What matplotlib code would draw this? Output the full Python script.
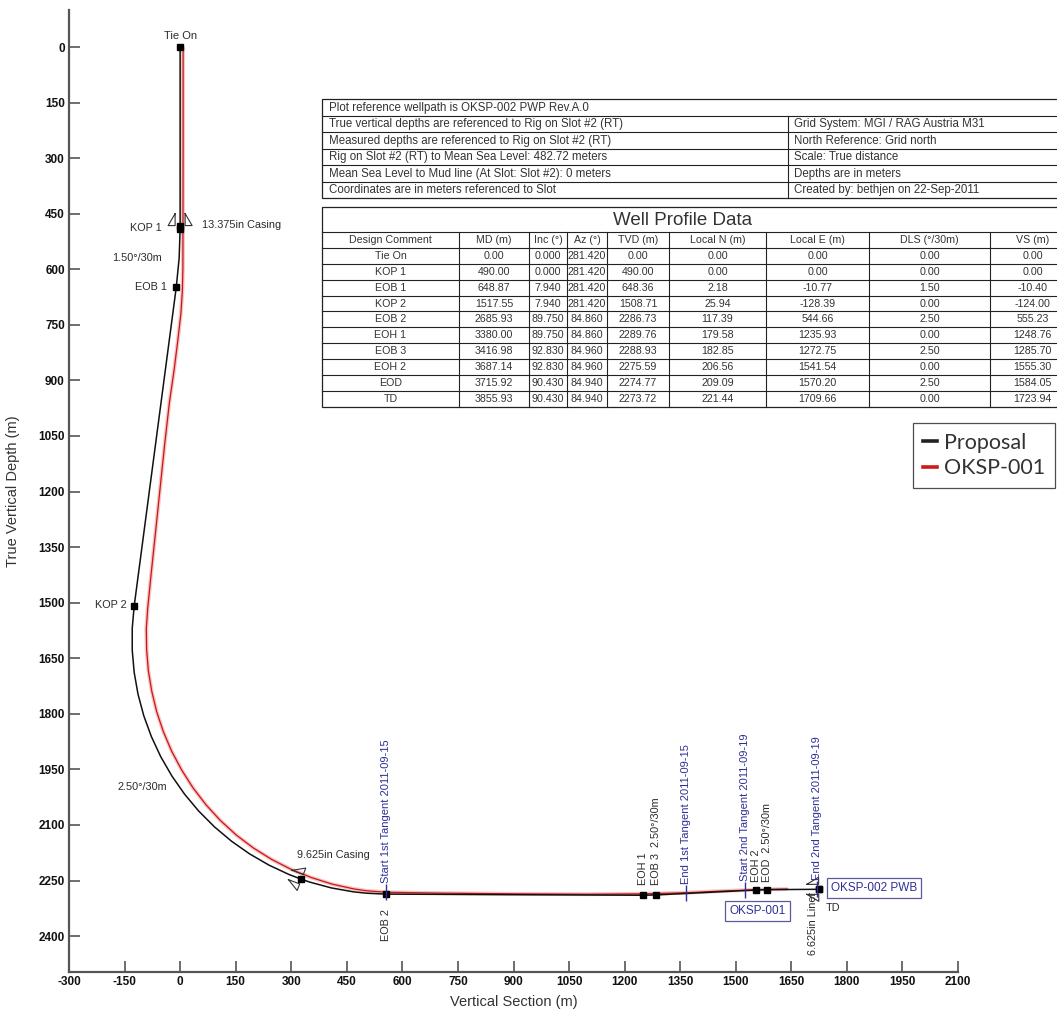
import matplotlib
matplotlib.use("Agg")
import matplotlib.pyplot as plt
from matplotlib.lines import Line2D
from matplotlib.patches import Rectangle
import numpy as np

plt.rcParams["axes.unicode_minus"] = False

# ---------------- well profile data (proposal OKSP-002) ----------------
design_comment = ["Tie On", "KOP 1", "EOB 1", "KOP 2", "EOB 2", "EOH 1", "EOB 3", "EOH 2", "EOD", "TD"]
md = [0.00, 490.00, 648.87, 1517.55, 2685.93, 3380.00, 3416.98, 3687.14, 3715.92, 3855.93]
inc = [0.000, 0.000, 7.940, 7.940, 89.750, 89.750, 92.830, 92.830, 90.430, 90.430]
az = [281.420, 281.420, 281.420, 281.420, 84.860, 84.860, 84.960, 84.960, 84.940, 84.940]
tvd = [0.00, 490.00, 648.36, 1508.71, 2286.73, 2289.76, 2288.93, 2275.59, 2274.77, 2273.72]
local_n = [0.00, 0.00, 2.18, 25.94, 117.39, 179.58, 182.85, 206.56, 209.09, 221.44]
local_e = [0.00, 0.00, -10.77, -128.39, 544.66, 1235.93, 1272.75, 1541.54, 1570.20, 1709.66]
dls = [0.00, 0.00, 1.50, 0.00, 2.50, 0.00, 2.50, 0.00, 2.50, 0.00]
vs = [0.00, 0.00, -10.40, -124.00, 555.23, 1248.76, 1285.70, 1555.30, 1584.05, 1723.94]

# proposal trajectory in the vertical section (stations incl. points along the build arcs)
prop_vs = [0.00, 0.00, -2.60, -10.40, -124.00, -129.25, -129.30, -124.05, -113.70, -98.20, -77.70,
           -52.40, -22.40, 11.90, 50.40, 92.80, 138.70, 187.80, 239.70, 294.00, 327.60, 350.30,
           408.20, 467.20, 503.00, 555.23, 1248.76, 1285.70, 1555.30, 1584.05, 1723.94]
prop_tvd = [0.00, 490.00, 569.40, 648.36, 1508.71, 1568.40, 1628.30, 1688.00, 1747.10, 1805.00, 1861.30,
            1915.70, 1967.60, 2016.80, 2062.80, 2105.30, 2143.90, 2178.30, 2208.40, 2233.80, 2246.70, 2254.40,
            2270.00, 2280.50, 2284.30, 2286.73, 2289.76, 2288.93, 2275.59, 2274.77, 2273.72]

# drilled well OKSP-001
act_vs = [8.0, 8.0, 7.5, 6.0, 2.0, -6.0, -16.0, -29.0, -42.0, -55.0, -68.0, -78.0, -85.0, -87.4, -91.3,
          -90.4, -85.9, -76.6, -63.4, -45.4, -23.1, 3.8, 34.5, 69.6, 108.7, 151.5, 198.0, 247.6, 299.8,
          354.2, 410.5, 468.3, 503.5, 555.2, 700, 900, 1100, 1250, 1366, 1450, 1525, 1580, 1640]
act_tvd = [0, 300, 600, 660, 720, 790, 870, 960, 1075, 1200, 1325, 1420, 1490, 1513.5, 1570.1,
           1626.6, 1683.0, 1738.9, 1794.0, 1847.9, 1900.5, 1951.0, 1999.5, 2045.3, 2088.0, 2127.2, 2162.3,
           2193.3, 2220.0, 2242.0, 2259.8, 2272.6, 2277.8, 2281.7, 2284, 2286, 2287, 2286, 2283, 2279,
           2276, 2274, 2273]

# casing points
casing_names = ["13.375in Casing", "9.625in Casing", "6.625in Liner"]
casing_vs = [0.00, 327.60, 1723.94]
casing_tvd = [482.00, 2246.70, 2273.72]

# tangent events on OKSP-001
tangent_labels = ["Start 1st Tangent 2011-09-15", "End 1st Tangent 2011-09-15",
                  "Start 2nd Tangent 2011-09-19", "End 2nd Tangent 2011-09-19"]
tangent_vs = [555, 1366, 1525, 1719]
tangent_tvd = [2282, 2283, 2276, 2273]

# build-rate annotations (anchored on a trajectory point)
dls_labels = ["1.50°/30m", "2.50°/30m"]
dls_vs = [-2.60, -22.40]
dls_tvd = [569.40, 1967.60]

# header block text
info_left = ["Plot reference wellpath is OKSP-002 PWP Rev.A.0",
             "True vertical depths are referenced to Rig on Slot #2 (RT)",
             "Measured depths are referenced to Rig on Slot #2 (RT)",
             "Rig on Slot #2 (RT) to Mean Sea Level: 482.72 meters",
             "Mean Sea Level to Mud line (At Slot: Slot #2): 0 meters",
             "Coordinates are in meters referenced to Slot"]
info_right = ["", "Grid System: MGI / RAG Austria M31", "North Reference: Grid north",
              "Scale: True distance", "Depths are in meters", "Created by: bethjen on 22-Sep-2011"]
table_header = ["Design Comment", "MD (m)", "Inc (°)", "Az (°)", "TVD (m)", "Local N (m)",
                "Local E (m)", "DLS (°/30m)", "VS (m)"]

xticks = list(range(-300, 2101, 150))
yticks = list(range(0, 2401, 150))

# ---------------- figure ----------------
W, H = 1057, 1013
fig = plt.figure(figsize=(W / 100, H / 100), dpi=100)
ax = fig.add_axes([69 / W, 1 - 972 / H, 889 / W, 962 / H])
ax.set_xlim(-300, 2100)
ax.set_ylim(2497, -100)

NARROW = ["Liberation Sans Narrow", "Liberation Sans", "DejaVu Sans"]
SANS = ["Liberation Sans", "DejaVu Sans"]
BLUE = "#2f2f96"
TXT = "#2a2a2a"

for s in ["top", "right"]:
    ax.spines[s].set_visible(False)
for s in ["left", "bottom"]:
    ax.spines[s].set_color("#555555")
    ax.spines[s].set_linewidth(1.6)
ax.set_xticks(xticks)
ax.set_yticks(yticks)
ax.tick_params(direction="in", length=8, width=1.2, color="#555555", pad=3)
for lab in ax.get_xticklabels() + ax.get_yticklabels():
    lab.set_fontweight("bold")
    lab.set_fontsize(8.5)
    lab.set_family(SANS)
    lab.set_color("#111111")
ax.set_ylabel("True Vertical Depth (m)", fontsize=10.5, color="#333333", family=SANS)
ax.set_xlabel("Vertical Section (m)", fontsize=10.5, color="#333333", family=SANS)
ax.yaxis.set_label_coords(-0.055, 0.5)
ax.xaxis.set_label_coords(0.5, -0.024)

# trajectories
ax.plot(act_vs, act_tvd, color="#f5c6c6", lw=2.8, solid_capstyle="butt", solid_joinstyle="round", zorder=2)
ax.plot(act_vs, act_tvd, color="#cc1414", lw=0.9, solid_joinstyle="round", zorder=3)
ax.plot(prop_vs, prop_tvd, color="#111111", lw=1.1, solid_joinstyle="round", zorder=4)
ax.plot(vs, tvd, ls="none", marker="s", ms=4.2, color="black", zorder=6)
ax.plot(casing_vs, casing_tvd, ls="none", marker="s", ms=4.2, color="black", zorder=6)
ax.plot(tangent_vs, tangent_tvd, ls="none", marker="|", ms=11, mew=1.0, color=BLUE, zorder=6)

# casing shoe symbols (drawn in pixel offsets around the shoe point)
m_per_px = 2400 / 889
pv, pt = np.array(prop_vs), np.array(prop_tvd)


def path_direction(x, y):
    best, dvec = 1e18, (0.0, 1.0)
    for i in range(len(pv) - 1):
        a = np.array([pv[i], pt[i]]); b = np.array([pv[i + 1], pt[i + 1]])
        ab = b - a
        L = np.hypot(*ab)
        if L == 0:
            continue
        t = np.clip(np.dot([x, y] - a, ab) / L ** 2, 0, 1)
        d = np.hypot(*(a + t * ab - [x, y]))
        if d < best - 1e-9:
            best, dvec = d, ab / L
    return dvec


for cx, cy in zip(casing_vs, casing_tvd):
    d = path_direction(cx, cy)
    for side in (1, -1):
        n = side * np.array([-d[1], d[0]])
        pts = [5 * n - 12 * d, 5 * n, 12 * n, 5 * n - 12 * d]
        xs = [cx + p[0] * m_per_px for p in pts]
        ys = [cy + p[1] * m_per_px for p in pts]
        ax.plot(xs, ys, color="#333333", lw=0.8, zorder=5)

# point labels
label_style = {
    "Tie On": (0, 11, "center", "center", 0),
    "KOP 1": (-18, 1, "right", "center", 0),
    "EOB 1": (-9, 0, "right", "center", 0),
    "KOP 2": (-8, 1, "right", "center", 0),
    "EOB 2": (0, -15, "center", "top", 90),
    "EOH 1": (0, 10, "center", "bottom", 90),
    "EOB 3": (0, 10, "center", "bottom", 90),
    "EOH 2": (0, 8, "center", "bottom", 90),
    "EOD": (0, 8, "center", "bottom", 90),
    "TD": (7, -19, "left", "center", 0),
}
label_text = {"EOB 3": "EOB 3  2.50°/30m", "EOD": "EOD  2.50°/30m"}
for name, x, y in zip(design_comment, vs, tvd):
    dx, dy, ha, va, rot = label_style[name]
    ax.annotate(label_text.get(name, name), (x, y), xytext=(dx, dy), textcoords="offset pixels",
                ha=ha, va=va, rotation=rot, fontsize=8 if name == "Tie On" else 7.8,
                color=TXT, family=NARROW, zorder=7)

for lab, x, y, off in zip(dls_labels, dls_vs, dls_tvd, [(-17, 0), (-5, -11)]):
    ax.annotate(lab, (x, y), xytext=off, textcoords="offset pixels", ha="right", va="center",
                fontsize=7.8, color=TXT, family=NARROW)

casing_label_style = [((22, 1), "left", "center", 0), ((-4, 24), "left", "center", 0),
                      ((-6, -3), "center", "top", 90)]
for lab, x, y, (off, ha, va, rot) in zip(casing_names, casing_vs, casing_tvd, casing_label_style):
    ax.annotate(lab, (x, y), xytext=off, textcoords="offset pixels", ha=ha, va=va, rotation=rot,
                fontsize=7.8, color=TXT, family=NARROW, zorder=7)

for lab, x, y in zip(tangent_labels, tangent_vs, tangent_tvd):
    ax.annotate(lab, (x, y), xytext=(0, 9), textcoords="offset pixels", ha="center", va="bottom",
                rotation=90, fontsize=8, color=BLUE, family=NARROW, zorder=7)

box = dict(boxstyle="square,pad=0.35", fc="white", ec="#5a5a9a", lw=0.9)
ax.annotate("OKSP-002 PWB", (vs[-1], tvd[-1]), xytext=(12, 1), textcoords="offset pixels",
            ha="left", va="center", fontsize=8.5, color=BLUE, family=SANS, bbox=box, zorder=8)
ax.annotate("OKSP-001", (act_vs[-1], act_tvd[-1]), xytext=(-30, -22), textcoords="offset pixels",
            ha="center", va="center", fontsize=8.5, color=BLUE, family=SANS, bbox=box, zorder=8)


# ---------------- header tables (figure pixel coordinates) ----------------
def fx(x):
    return x / W


def fy(y):
    return 1 - y / H


def hline(x0, x1, y, lw=0.8):
    fig.add_artist(Line2D([fx(x0), fx(x1)], [fy(y), fy(y)], color="#222222", lw=lw, zorder=10))


def vline(x, y0, y1, lw=0.8):
    fig.add_artist(Line2D([fx(x), fx(x)], [fy(y0), fy(y1)], color="#222222", lw=lw, zorder=10))


def ftext(x, y, s, ha="left", size=7.6, **kw):
    fig.text(fx(x), fy(y), s, ha=ha, va="center", fontsize=size, color="#333333",
             family=NARROW, zorder=11, **kw)


# info block
L, R = 322, 1058
t1_top, t1_row = 99.5, 16.5
split = 788
fig.add_artist(Rectangle((fx(L), fy(t1_top + 6 * t1_row)), fx(R) - fx(L), 6 * t1_row / H,
                         fc="white", ec="#222222", lw=0.9, zorder=9))
for i in range(1, 6):
    hline(L, R, t1_top + i * t1_row)
vline(split, t1_top + t1_row, t1_top + 6 * t1_row)
for i, (a, b) in enumerate(zip(info_left, info_right)):
    yc = t1_top + (i + 0.5) * t1_row
    ftext(L + 7, yc, a, size=8.3)
    if b:
        ftext(split + 6, yc, b, size=8.3)

# well profile table
t2_top, title_h, row_h = 207, 25, 15.9
cols = [L, 459, 529, 567, 607, 669, 766, 869, 990, R]
n_rows = 1 + len(design_comment)
t2_bot = t2_top + title_h + n_rows * row_h
fig.add_artist(Rectangle((fx(L), fy(t2_bot)), fx(R) - fx(L), (t2_bot - t2_top) / H,
                         fc="white", ec="#222222", lw=0.9, zorder=9))
hline(L, R, t2_top + title_h)
for i in range(1, n_rows):
    hline(L, R, t2_top + title_h + i * row_h)
for c in cols[1:-1]:
    vline(c, t2_top + title_h, t2_bot)
fig.text(fx((L + 1043) / 2), fy(t2_top + title_h / 2 + 1), "Well Profile Data", ha="center",
         va="center", fontsize=13.5, color="#333333", family=NARROW, zorder=11)

rows = [table_header]
for k in range(len(design_comment)):
    rows.append([design_comment[k], f"{md[k]:.2f}", f"{inc[k]:.3f}", f"{az[k]:.3f}", f"{tvd[k]:.2f}",
                 f"{local_n[k]:.2f}", f"{local_e[k]:.2f}", f"{dls[k]:.2f}", f"{vs[k]:.2f}"])
for r, row in enumerate(rows):
    yc = t2_top + title_h + (r + 0.5) * row_h
    for c, s in enumerate(row):
        right = cols[c + 1] if c + 1 < len(cols) - 1 else 1075
        ftext((cols[c] + right) / 2, yc, s, ha="center", size=7.7)

# legend
handles = [Line2D([], [], color="#222222", lw=2.6), Line2D([], [], color="#d01818", lw=2.6)]
leg = fig.legend(handles, ["Proposal", "OKSP-001"], loc="upper left",
                 bbox_to_anchor=(fx(913), fy(423)), borderaxespad=0.0, frameon=True, fancybox=False,
                 handlelength=0.65, handletextpad=0.35, borderpad=0.45, labelspacing=0.25,
                 prop={"family": ["Lato", "DejaVu Sans"], "size": 15.5})
leg.get_frame().set_edgecolor("#222222")
leg.get_frame().set_linewidth(0.9)
for t in leg.get_texts():
    t.set_color("#333333")

fig.savefig("out.png", dpi=100)
